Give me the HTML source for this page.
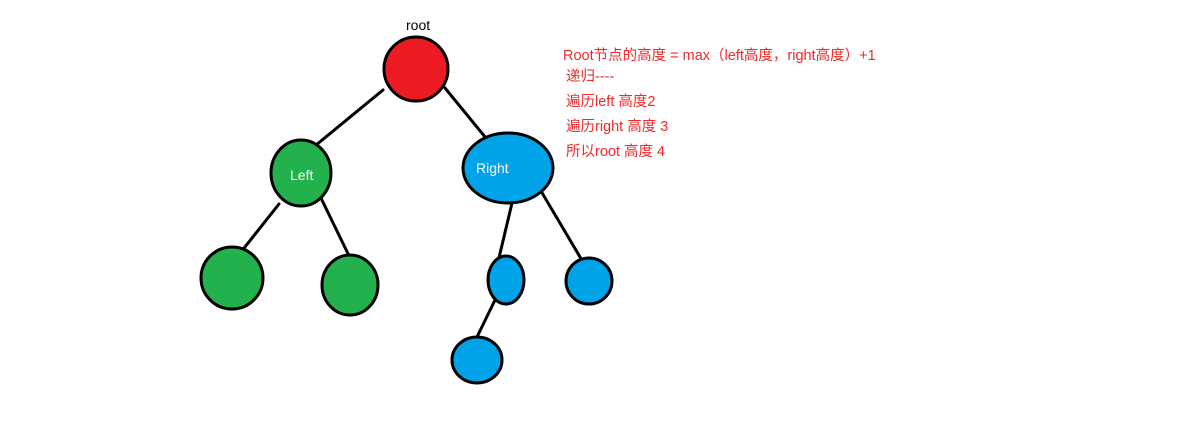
<!DOCTYPE html>
<html><head><meta charset="utf-8"><style>
body{margin:0;background:#fff;}
svg{display:block}
text{font-family:"Liberation Sans","Noto Sans CJK SC",sans-serif;}
</style></head><body>
<svg width="1182" height="430" viewBox="0 0 1182 430">
<g stroke="#000" stroke-width="3" stroke-linecap="round">
<line x1="383" y1="90" x2="310" y2="150"/>
<line x1="445" y1="88" x2="490" y2="143"/>
<line x1="279" y1="204" x2="237" y2="257"/>
<line x1="320" y1="196" x2="353" y2="264"/>
<line x1="512" y1="203" x2="498" y2="262"/>
<line x1="538" y1="186" x2="583" y2="262"/>
<line x1="496" y1="298" x2="477" y2="337"/>
</g>
<g stroke="#000" stroke-width="3">
<circle cx="416" cy="69" r="32" fill="#ed1c24"/>
<ellipse cx="301" cy="173" rx="30" ry="33" fill="#22b14c"/>
<ellipse cx="508" cy="168" rx="45" ry="35" fill="#00a2e8"/>
<ellipse cx="232" cy="278" rx="31" ry="31" fill="#22b14c"/>
<ellipse cx="350" cy="285" rx="28" ry="30" fill="#22b14c"/>
<ellipse cx="506" cy="280" rx="18" ry="24" fill="#00a2e8"/>
<ellipse cx="589" cy="281" rx="23" ry="23" fill="#00a2e8"/>
<ellipse cx="477" cy="360" rx="25" ry="23" fill="#00a2e8"/>
</g>
<text x="406" y="30" font-size="14" fill="#000">root</text>
<text x="290" y="180" font-size="14" fill="#fff">Left</text>
<text x="476" y="173" font-size="14" fill="#fff">Right</text>
<g fill="#ee2a2a" font-size="14.5">
<text x="563" y="60">Root节点的高度 = max（left高度，right高度）+1</text>
<text x="566" y="81">递归----</text>
<text x="566" y="106">遍历left 高度2</text>
<text x="566" y="131">遍历right 高度 3</text>
<text x="566" y="156">所以root  高度 4</text>
</g>
</svg>
</body></html>
